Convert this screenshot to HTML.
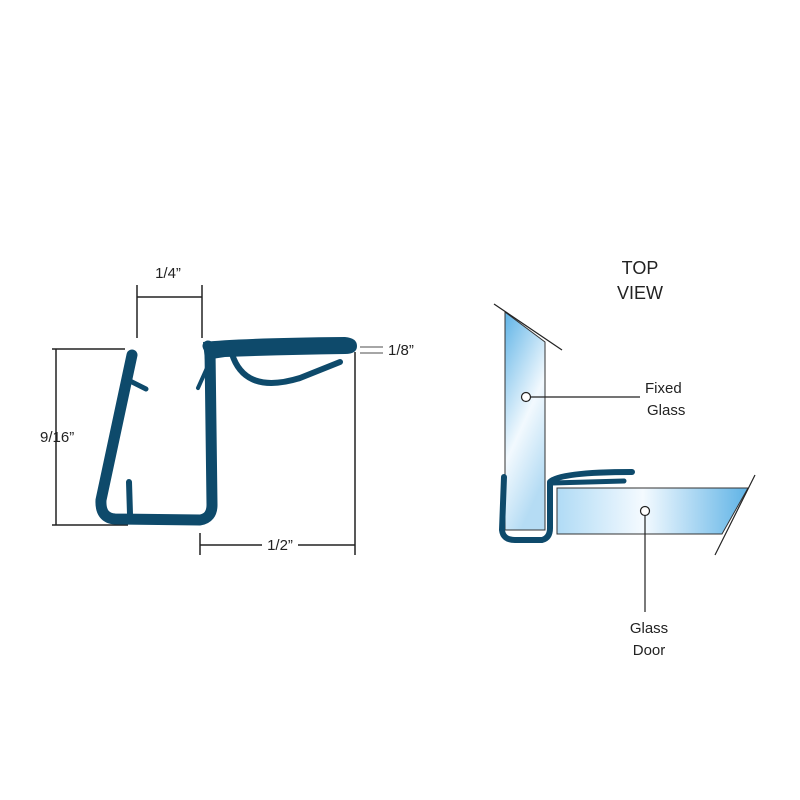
<!DOCTYPE html>
<html><head><style>body{margin:0;background:#fff}svg{display:block}text{font-family:"Liberation Sans",sans-serif;fill:#222}</style></head><body>
<svg width="800" height="800" viewBox="0 0 800 800">
<defs>
<linearGradient id="g1" x1="0" y1="0" x2="0.4" y2="1"><stop offset="0" stop-color="#5fb3e6"/><stop offset="0.6" stop-color="#f2f9fe"/><stop offset="1" stop-color="#b5dcf4"/></linearGradient>
<linearGradient id="g2" x1="0" y1="0" x2="1" y2="0"><stop offset="0" stop-color="#b0dbf5"/><stop offset="0.45" stop-color="#f4faff"/><stop offset="1" stop-color="#5fb3e6"/></linearGradient>
</defs>
<g stroke="#222" stroke-width="1.5" fill="none">
<line x1="137" y1="285" x2="137" y2="338"/><line x1="202" y1="285" x2="202" y2="338"/><line x1="137" y1="297" x2="202" y2="297"/>
<line x1="56" y1="349" x2="56" y2="525"/><line x1="52" y1="349" x2="125" y2="349"/><line x1="52" y1="525" x2="128" y2="525"/>
<line x1="200" y1="533" x2="200" y2="555"/><line x1="355" y1="352" x2="355" y2="555"/><line x1="200" y1="545" x2="262" y2="545"/><line x1="298" y1="545" x2="355" y2="545"/>
</g>
<g stroke="#888" stroke-width="1.5"><line x1="360" y1="347" x2="383" y2="347"/><line x1="360" y1="353" x2="383" y2="353"/></g>
<text x="168" y="278" font-size="15" text-anchor="middle">1/4”</text>
<text x="40" y="442" font-size="15">9/16”</text>
<text x="280" y="550" font-size="15" text-anchor="middle">1/2”</text>
<text x="388" y="355" font-size="15">1/8”</text>
<g stroke="#0e4a6b" fill="none" stroke-linecap="round" stroke-linejoin="round">
<path d="M132 355 L101 500 Q100 518 115 519 L200 520 Q212 518 212 505 L210 350 L208 346" stroke-width="11"/>
<path d="M232 354 Q245 395 300 378 L340 362" stroke-width="6"/>
<path d="M128 380 L146 389" stroke-width="5"/>
<path d="M129 482 L130 514" stroke-width="6"/>
<path d="M207 368 L198 388" stroke-width="4"/>
</g>
<path d="M203 342 Q240 338 345 337 Q357 338 357 346 Q357 354 345 354 Q280 355 225 357 L205 360 Z" fill="#0e4a6b"/>
<text x="640" y="274" font-size="18" text-anchor="middle">TOP</text>
<text x="640" y="299" font-size="18" text-anchor="middle">VIEW</text>
<path d="M505 312 L545 342 L545 530 L505 530 Z" fill="url(#g1)" stroke="#333" stroke-width="1"/>
<line x1="494" y1="304" x2="562" y2="350" stroke="#222" stroke-width="1.2"/>
<path d="M557 488 L748 488 L722 534 L557 534 Z" fill="url(#g2)" stroke="#333" stroke-width="1"/>
<line x1="755" y1="475" x2="715" y2="555" stroke="#222" stroke-width="1.2"/>
<g stroke="#0e4a6b" fill="none" stroke-linecap="round" stroke-linejoin="round">
<path d="M504 477 L502 530 Q503 540 515 540 L542 540 Q550 538 550 528 L550 482 Q560 472 632 472" stroke-width="6"/>
<path d="M552 483 L624 481" stroke-width="5"/>
</g>
<g stroke="#222" stroke-width="1.2" fill="#fff">
<line x1="531" y1="397" x2="640" y2="397"/><circle cx="526" cy="397" r="4.5"/>
<line x1="645" y1="516" x2="645" y2="612"/><circle cx="645" cy="511" r="4.5"/>
</g>
<text x="645" y="393" font-size="15">Fixed</text>
<text x="647" y="415" font-size="15">Glass</text>
<text x="649" y="633" font-size="15" text-anchor="middle">Glass</text>
<text x="649" y="655" font-size="15" text-anchor="middle">Door</text>
</svg>
</body></html>
